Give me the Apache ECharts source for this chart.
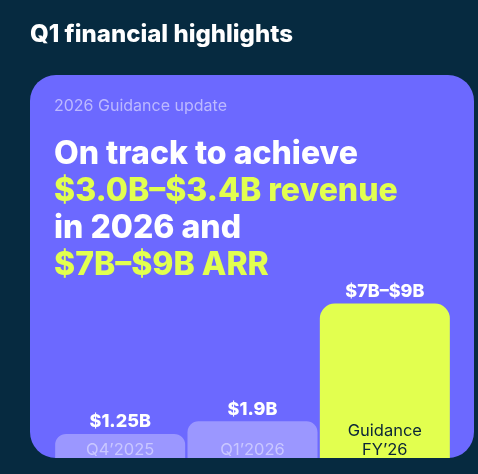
<!DOCTYPE html>
<html>
<head>
<meta charset="utf-8">
<script src="https://cdn.jsdelivr.net/npm/echarts@6/dist/echarts.min.js"></script>
<style>
  html, body { margin: 0; padding: 0; background: #062a40; }
  #main { width: 478px; height: 474px; }
</style>
</head>
<body>
<div id="main"></div>
<script>
'use strict';

// data
var categories = ['Q4’2025', 'Q1’2026', 'Guidance\nFY’26'];
var values = [1.25, 1.9, 8];
var valueLabels = ['$1.25B', '$1.9B', '$7B–$9B'];
var headline = ['On track to achieve', '$3.0B–$3.4B revenue', 'in 2026 and', '$7B–$9B ARR'];
var headlineLime = [false, true, false, true];

var NAVY = '#062a40';
var CARD = '#6c69ff';
var SOFT = '#9b97ff';
var LIME = '#e2ff4f';

var myChart = echarts.init(document.getElementById('main'));

var graphics = [
    {
        type: 'text', left: 30, top: 23, z: 10,
        style: { text: 'Q1 financial highlights', fill: '#ffffff', font: '800 24px Inter' }
    },
    {
        type: 'rect', z: -10, silent: true,
        shape: { x: 30, y: 75, width: 444, height: 383, r: 26 },
        style: { fill: CARD }
    },
    {
        type: 'text', left: 54, top: 98, z: 10,
        style: { text: '2026 Guidance update', fill: '#bcb9ff', font: '16px Inter' }
    }
];
headline.forEach(function (line, i) {
    graphics.push({
        type: 'text', left: 54, top: 138 + i * 37, z: 10,
        style: { text: line, fill: headlineLime[i] ? LIME : '#ffffff', font: '800 32px Inter' }
    });
});

var option = {
    backgroundColor: NAVY,
    animation: false,
    grid: { left: 54, right: 27, top: 72, bottom: 16 },
    xAxis: {
        type: 'category',
        data: categories,
        axisLine: { show: false },
        axisTick: { show: false },
        axisLabel: {
            inside: true,
            margin: -2,
            interval: 0,
            formatter: function (v, idx) {
                var tag = idx === 2 ? 'dark' : 'light';
                return v.split('\n').map(function (s) { return '{' + tag + '|' + s + '}'; }).join('\n');
            },
            rich: {
                light: { color: '#c9c7ff', fontSize: 16.5, fontFamily: 'Inter', lineHeight: 19 },
                dark: { color: '#0a2438', fontSize: 16.5, fontFamily: 'Inter', lineHeight: 19 }
            }
        },
        z: 5
    },
    yAxis: {
        type: 'value',
        min: 0,
        max: 20,
        show: false,
        splitLine: { show: false }
    },
    series: [
        {
            type: 'bar',
            barWidth: 130,
            data: values.map(function (v, i) {
                return {
                    value: v,
                    itemStyle: {
                        color: i === 2 ? LIME : SOFT,
                        borderRadius: i === 2 ? [15, 15, 0, 0] : [11, 11, 0, 0]
                    }
                };
            }),
            label: {
                show: true,
                position: 'top',
                distance: 3,
                color: '#ffffff',
                fontFamily: 'Inter',
                fontWeight: 800,
                fontSize: 18,
                formatter: function (p) { return valueLabels[p.dataIndex]; }
            }
        }
    ],
    graphic: graphics
};

myChart.setOption(option);
</script>
</body>
</html>
